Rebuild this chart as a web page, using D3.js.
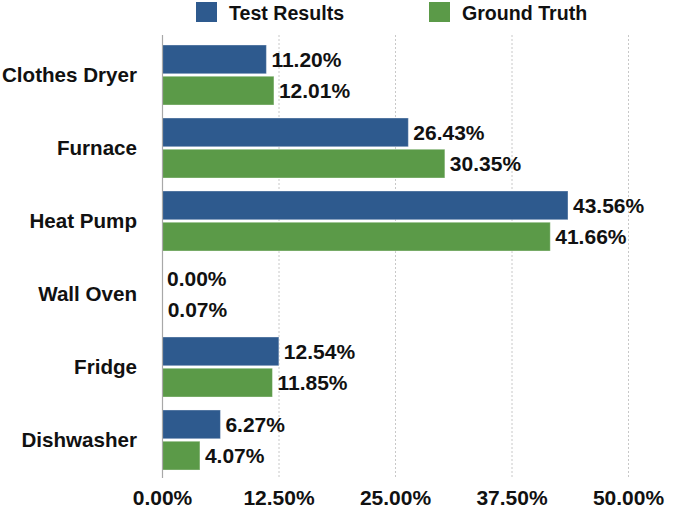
<!DOCTYPE html>
<html><head><meta charset="utf-8">
<script src="https://cdn.jsdelivr.net/npm/d3@7"></script>
<style>body{margin:0;background:#fff}svg{display:block}text{font-family:"Liberation Sans",Arial,Helvetica,sans-serif;font-weight:bold;fill:#111}</style>
</head><body><svg id="c" width="674" height="512"></svg>
<script>
const categories = ["Clothes Dryer","Furnace","Heat Pump","Wall Oven","Fridge","Dishwasher"];
const seriesNames = ["Test Results","Ground Truth"];
const testResults = [11.20, 26.43, 43.56, 0.00, 12.54, 6.27];
const groundTruth = [12.01, 30.35, 41.66, 0.07, 11.85, 4.07];
const tickValues = [0, 12.5, 25, 37.5, 50];
const colors = ["#2e5a8e", "#5b9a48"];

const svg = d3.select("#c");
const x = d3.scaleLinear().domain([0, 50]).range([162, 628]);
const y = d3.scaleBand().domain(categories).range([38.5, 476.5]).paddingInner(0.178).paddingOuter(0.089);
const sub = d3.scaleBand().domain(seriesNames).range([0, y.bandwidth()]).paddingInner(0.08);

// grid
svg.append("g").selectAll("line").data(tickValues.slice(1)).join("line")
  .attr("x1", d => x(d)+0.5).attr("x2", d => x(d)+0.5).attr("y1", 35).attr("y2", 478)
  .attr("stroke", "#c8c8c8").attr("stroke-width", 1).attr("stroke-dasharray", "2,2");

// bars
const series = [testResults, groundTruth];
series.forEach((vals, si) => {
  const g = svg.append("g");
  g.selectAll("rect").data(categories).join("rect")
    .attr("x", x(0)).attr("y", c => y(c) + sub(seriesNames[si]))
    .attr("width", (c,i) => x(vals[i]) - x(0)).attr("height", sub.bandwidth())
    .attr("fill", colors[si]).attr("stroke", "rgba(255,255,255,0.35)").attr("stroke-width", 1);
  g.selectAll("text").data(categories).join("text")
    .attr("x", (c,i) => x(vals[i]) + 5).attr("y", c => y(c) + sub(seriesNames[si]) + sub.bandwidth()/2)
    .attr("dy", "0.36em").attr("font-size", 21)
    .text((c,i) => vals[i].toFixed(2) + "%");
});

// zero axis line
svg.append("line").attr("x1", x(0)+0.5).attr("x2", x(0)+0.5).attr("y1", 35).attr("y2", 478)
  .attr("stroke", "#a8a8a8").attr("stroke-width", 1.2);

// category labels
svg.append("g").selectAll("text").data(categories).join("text")
  .attr("x", 137).attr("y", c => y(c) + y.bandwidth()/2).attr("dy", "0.36em")
  .attr("text-anchor", "end").attr("font-size", 20.6).text(c => c);

// x axis via d3 axis
const ax = svg.append("g").attr("transform", "translate(0,492)")
  .call(d3.axisBottom(x).tickValues(tickValues).tickSize(0).tickPadding(0).tickFormat(d => d.toFixed(2) + "%"));
ax.select(".domain").remove();
ax.selectAll("text").attr("font-size", 21).attr("fill", "#111").attr("dy", "0.62em")
  .style("font-family", "'Liberation Sans',Arial,sans-serif").style("font-weight", "bold");

// legend
const legX = [196, 429];
seriesNames.forEach((n, i) => {
  svg.append("rect").attr("x", legX[i]).attr("y", 2).attr("width", 21).attr("height", 20).attr("fill", colors[i]);
  svg.append("text").attr("x", legX[i] + 33).attr("y", 12.5).attr("dy", "0.36em").attr("font-size", 19.6).text(n);
});
</script></body></html>
